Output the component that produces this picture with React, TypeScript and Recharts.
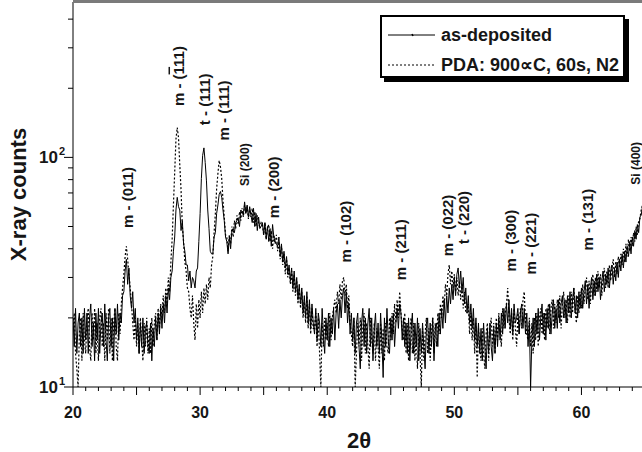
import React from 'react';
import { LineChart, Line, XAxis, YAxis, ReferenceDot } from 'recharts';

// 2θ sampled every 0.1° from 20.0 to 64.8
const asDeposited = [
  20, 15, 22, 14, 19, 21, 15, 20, 14, 22,
  16, 21, 14, 20, 23, 15, 19, 13, 21, 16,
  22, 14, 19, 21, 15, 23, 16, 13, 20, 22,
  15, 20, 13, 22, 17, 23, 16, 21, 19, 25,
  26, 32, 36, 28, 33, 25, 22, 26, 19, 22,
  16, 20, 14, 19, 15, 20, 14, 18, 19, 15,
  14, 19, 13, 18, 15, 20, 16, 21, 17, 22,
  18, 23, 19, 25, 21, 27, 24, 30, 32, 39,
  45, 59, 67, 61, 59, 48, 53, 42, 39, 34,
  34, 29, 32, 27, 30, 29, 27, 32, 33, 43,
  57, 81, 102, 110, 95, 79, 59, 49, 39, 38,
  38, 45, 47, 57, 62, 69, 71, 67, 59, 53,
  45, 43, 38, 45, 40, 48, 49, 47, 52, 53,
  54, 50, 59, 58, 56, 64, 57, 62, 55, 61,
  56, 52, 60, 50, 57, 48, 55, 49, 50, 52,
  46, 52, 44, 50, 43, 49, 41, 51, 45, 43,
  42, 41, 45, 37, 42, 35, 39, 33, 37, 31,
  34, 29, 33, 27, 32, 26, 30, 24, 28, 23,
  27, 21, 25, 20, 26, 19, 24, 18, 23, 19,
  17, 22, 16, 21, 19, 15, 22, 17, 14, 20,
  16, 21, 15, 20, 17, 22, 16, 21, 23, 18,
  24, 20, 25, 27, 21, 26, 19, 23, 17, 21,
  16, 20, 14, 19, 21, 15, 12, 19, 22, 15,
  20, 14, 19, 22, 15, 20, 13, 18, 21, 15,
  19, 14, 21, 16, 11, 20, 15, 22, 16, 14,
  20, 16, 21, 15, 19, 22, 18, 23, 21, 16,
  20, 15, 19, 14, 20, 13, 18, 21, 14, 19,
  15, 20, 13, 18, 14, 19, 15, 12, 18, 20,
  14, 19, 15, 20, 13, 18, 19, 15, 21, 17,
  22, 18, 24, 19, 25, 21, 27, 23, 28, 24,
  30, 25, 31, 33, 27, 32, 26, 30, 23, 27,
  21, 25, 19, 23, 18, 22, 16, 20, 15, 19,
  14, 18, 13, 19, 15, 12, 18, 14, 19, 15,
  13, 18, 14, 19, 15, 20, 16, 21, 17, 22,
  18, 23, 19, 24, 18, 22, 17, 23, 19, 20,
  22, 17, 21, 23, 18, 22, 17, 21, 15, 19,
  10, 16, 20, 15, 21, 17, 22, 16, 20, 23,
  17, 21, 16, 22, 18, 23, 17, 21, 24, 18,
  22, 18, 24, 19, 23, 25, 20, 24, 19, 25,
  21, 26, 20, 24, 27, 21, 25, 20, 26, 22,
  27, 22, 26, 29, 23, 28, 22, 27, 30, 24,
  29, 25, 31, 26, 30, 24, 29, 32, 26, 31,
  28, 33, 27, 32, 34, 28, 33, 29, 35, 30,
  36, 32, 38, 33, 39, 35, 41, 37, 43, 38,
  45, 41, 48, 44, 51, 47, 55, 56, 61,
];

const pda = [
  18, 21, 14, 12, 10, 17, 20, 13, 21, 16,
  14, 20, 22, 15, 13, 21, 16, 22, 14, 19,
  13, 20, 22, 15, 19, 13, 21, 16, 22, 14,
  20, 13, 19, 22, 15, 13, 21, 17, 23, 27,
  31, 37, 41, 36, 31, 27, 23, 19, 16, 20,
  15, 19, 14, 20, 16, 13, 19, 15, 20, 14,
  18, 14, 20, 15, 19, 21, 16, 22, 18, 23,
  20, 25, 21, 27, 23, 30, 26, 35, 44, 62,
  86, 120, 135, 122, 93, 72, 50, 43, 35, 32,
  27, 26, 22, 20, 25, 19, 16, 23, 18, 24,
  20, 26, 21, 27, 23, 28, 24, 30, 27, 34,
  37, 47, 57, 73, 85, 97, 91, 81, 65, 55,
  46, 45, 39, 46, 42, 50, 45, 53, 49, 56,
  51, 58, 53, 60, 55, 62, 57, 61, 54, 59,
  55, 60, 52, 58, 50, 56, 51, 50, 52, 51,
  46, 52, 44, 49, 51, 43, 48, 40, 46, 42,
  46, 39, 43, 36, 41, 34, 38, 31, 36, 30,
  33, 28, 32, 26, 31, 25, 29, 23, 27, 22,
  26, 20, 24, 19, 25, 18, 23, 17, 22, 18,
  18, 21, 15, 20, 14, 10, 19, 15, 20, 16,
  19, 15, 21, 16, 20, 22, 24, 21, 26, 23,
  28, 24, 29, 30, 25, 28, 22, 25, 19, 17,
  15, 20, 10, 14, 19, 15, 20, 13, 18, 21,
  14, 19, 15, 12, 20, 16, 14, 19, 13, 18,
  15, 12, 19, 14, 18, 13, 19, 15, 14, 20,
  16, 21, 17, 23, 19, 24, 20, 26, 21, 18,
  16, 21, 14, 19, 13, 18, 20, 14, 19, 13,
  17, 12, 19, 14, 10, 18, 13, 17, 20, 14,
  18, 13, 17, 20, 14, 19, 15, 21, 17, 23,
  20, 25, 22, 28, 25, 31, 34, 28, 32, 27,
  31, 26, 30, 25, 29, 24, 28, 22, 26, 21,
  21, 23, 17, 21, 16, 20, 14, 19, 11, 18,
  15, 13, 18, 14, 12, 17, 19, 13, 18, 20,
  15, 19, 14, 20, 16, 21, 17, 15, 22, 18,
  21, 23, 27, 20, 17, 21, 16, 22, 18, 15,
  21, 17, 22, 18, 24, 26, 19, 17, 16, 20,
  15, 19, 14, 20, 16, 21, 15, 20, 22, 17,
  21, 16, 22, 18, 23, 17, 22, 24, 18, 23,
  19, 24, 20, 25, 18, 23, 26, 20, 24, 19,
  25, 20, 26, 21, 27, 22, 19, 25, 21, 26,
  22, 28, 23, 27, 30, 24, 29, 23, 28, 31,
  25, 30, 26, 32, 27, 31, 25, 30, 33, 27,
  32, 27, 34, 29, 33, 36, 30, 35, 31, 37,
  33, 38, 34, 40, 35, 42, 37, 44, 39, 45,
  41, 47, 43, 50, 46, 53, 54, 59, 62,
];

const angles = asDeposited.map((_, i) => Number((20 + i * 0.1).toFixed(1)));

const xTicks = Array.from({ length: 46 }, (_, i) => 20 + i);
const xTickLabels = [20, 30, 40, 50, 60];
const yTicks = [10, 20, 30, 40, 50, 60, 70, 80, 90, 100, 200, 300, 400];
const yTickLabels = [
  { value: 10, base: '10', exp: '1' },
  { value: 100, base: '10', exp: '2' },
];

const seriesNames = ['as-deposited', 'PDA: 900\u221DC, 60s, N2'];

// peak annotation labels
const peakText = ['m - (011)', 'm - (111)', 't - (111)', 'm - (111)', 'Si (200)', 'm - (200)', 'm - (102)', 'm - (211)', 'm - (022)', 't - (220)', 'm - (300)', 'm - (221)', 'm - (131)', 'Si (400)'];
const peakAngle = [24.33, 28.27, 30.39, 31.81, 33.54, 35.75, 41.42, 45.75, 49.45, 50.71, 54.41, 55.98, 60.47, 64.25];
const peakCounts = [66.9, 226, 179, 160, 93, 74, 47.5, 39.6, 50.5, 54.7, 43.4, 42.1, 53.6, 94.2];
const peakSmall = [false, false, false, false, true, false, false, false, false, false, false, false, false, true];
const peakBar = [-1, 5, -1, -1, -1, -1, -1, -1, -1, -1, -1, -1, -1, -1];

const data = angles.map((a, i) => ({ angle: a, asDep: asDeposited[i], pda: pda[i] }));

const FONT = '"Liberation Sans", Arial, sans-serif';
const INK = '#161616';

const XTick = (props: any) => {
  const { x, y, payload } = props;
  const v = payload.value;
  const major = v % 5 === 0;
  return (
    <g>
      <line x1={x} x2={x} y1={y} y2={y + (major ? 8 : 4)} stroke="#000" strokeWidth={1} />
      {xTickLabels.includes(v) && (
        <text x={x} y={y + 31} textAnchor="middle" fontSize={16} fontWeight="bold" fill={INK} fontFamily={FONT}>
          {v}
        </text>
      )}
    </g>
  );
};

const YTick = (props: any) => {
  const { x, y, payload } = props;
  const v = payload.value;
  const lab = yTickLabels.find((l) => l.value === v);
  return (
    <g>
      <line x1={x - (lab ? 9 : 5)} x2={x} y1={y} y2={y} stroke="#000" strokeWidth={1} />
      {lab && (
        <g fontFamily={FONT} fontWeight="bold" fill={INK}>
          <text x={x - 15} y={y + 6} textAnchor="end" fontSize={17}>{lab.base}</text>
          <text x={x - 14} y={y - 2} textAnchor="start" fontSize={11}>{lab.exp}</text>
        </g>
      )}
    </g>
  );
};

const LegendBox = () => (
  <div
    style={{
      position: 'absolute',
      left: 380,
      top: 15,
      boxSizing: 'border-box',
      width: 245,
      height: 63,
      border: '2px solid #000',
      boxShadow: '4px 4px 0 #000',
      background: '#fff',
      fontFamily: FONT,
      fontWeight: 'bold',
      fontSize: 18,
      color: INK,
    }}
  >
    {seriesNames.map((name, i) => (
      <div key={name} style={{ position: 'absolute', left: 6, top: 8 + i * 30, height: 20, display: 'flex', alignItems: 'center', whiteSpace: 'nowrap' }}>
        <svg width={48} height={20} style={{ display: 'block' }}>
          <line x1={0} x2={47} y1={10} y2={10} stroke="#000" strokeWidth={1} strokeDasharray={i === 1 ? '2 2' : undefined} />
          {i === 0 && <line x1={24} x2={25} y1={9} y2={11} stroke="#000" strokeWidth={1.5} />}
        </svg>
        <span style={{ marginLeft: 5 }}>{name}</span>
      </div>
    ))}
  </div>
);

const PeakLabel = (idx: number) => (p: any) => {
  const text = peakText[idx];
  const bar = peakBar[idx];
  const cx = p.cx;
  const cy = p.cy;
  return (
    <text
      transform={`rotate(-90 ${cx} ${cy})`}
      x={cx}
      y={cy}
      dy="0.36em"
      textAnchor="middle"
      fontSize={peakSmall[idx] ? 12 : 15}
      fontWeight="bold"
      fill={INK}
      fontFamily={FONT}
    >
      {bar < 0 ? (
        text
      ) : (
        <>
          <tspan>{text.slice(0, bar)}</tspan>
          <tspan style={{ textDecoration: 'overline' }}>{text.slice(bar, bar + 1)}</tspan>
          <tspan>{text.slice(bar + 1)}</tspan>
        </>
      )}
    </text>
  );
};

export default function App() {
  return (
    <div style={{ position: 'absolute', left: 0, top: 0, width: 642, height: 452, overflow: 'hidden', background: '#fff' }}>
      <LineChart width={650} height={452} data={data} margin={{ top: 2, right: 5, bottom: 0, left: 0 }}>
        <XAxis
          dataKey="angle"
          type="number"
          domain={[20, 65]}
          ticks={xTicks}
          interval={0}
          allowDataOverflow
          height={65}
          tickSize={0}
          tickMargin={0}
          tickLine={false}
          axisLine={{ stroke: '#000', strokeWidth: 1 }}
          tick={<XTick />}
          label={(props: any) => {
            const vb = props.viewBox;
            return (
              <text x={vb.x + vb.width / 2} y={vb.y + 61} textAnchor="middle" fontSize={22} fontWeight="bold" fill={INK} fontFamily={FONT}>
                2θ
              </text>
            );
          }}
        />
        <YAxis
          type="number"
          scale="log"
          domain={[10, 475]}
          ticks={yTicks}
          interval={0}
          allowDataOverflow
          width={73}
          tickSize={0}
          tickMargin={0}
          tickLine={false}
          axisLine={{ stroke: '#000', strokeWidth: 1 }}
          tick={<YTick />}
          label={(props: any) => {
            const vb = props.viewBox;
            const cx = 18;
            const cy = vb.y + vb.height / 2;
            return (
              <text transform={`rotate(-90 ${cx} ${cy})`} x={cx} y={cy} dy="0.35em" textAnchor="middle" fontSize={22} fontWeight="bold" fill={INK} fontFamily={FONT}>
                X-ray counts
              </text>
            );
          }}
        />
        <Line dataKey="pda" type="linear" stroke="#000" strokeWidth={1.2} strokeDasharray="2 2" dot={false} isAnimationActive={false} />
        <Line dataKey="asDep" type="linear" stroke="#000" strokeWidth={1} dot={false} isAnimationActive={false} />
        {peakText.map((t, i) => (
          <ReferenceDot key={t + i} x={peakAngle[i]} y={peakCounts[i]} r={1} ifOverflow="visible" shape={PeakLabel(i)} />
        ))}
      </LineChart>
      <div style={{ position: 'absolute', left: 73, top: 0, width: 569, height: 3, background: '#7a7a7a', zIndex: 5 }} />
      <LegendBox />
    </div>
  );
}
